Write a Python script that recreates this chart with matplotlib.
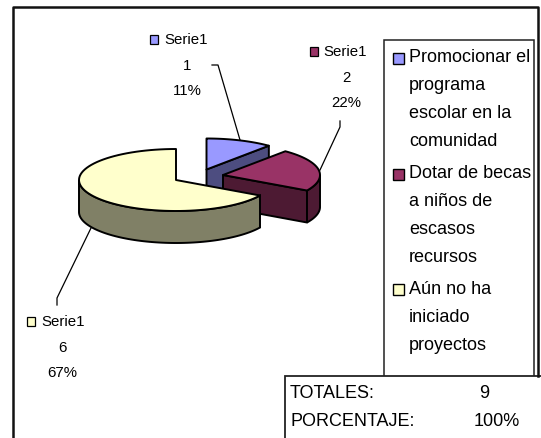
import numpy as np
import matplotlib
matplotlib.use('Agg')
import matplotlib.pyplot as plt
from matplotlib.patches import Polygon, Rectangle

plt.rcParams['font.family'] = ['Liberation Sans', 'DejaVu Sans']

# datos del grafico
categories = ['Promocionar el\nprograma\nescolar en la\ncomunidad',
              'Dotar de becas\na niños de\nescasos\nrecursos',
              'Aún no ha\niniciado\nproyectos']
series_name = 'Serie1'
values = [1, 2, 6]
percents = ['11%', '22%', '67%']
table_rows = ['TOTALES:', 'PORCENTAJE:']
table_values = ['9', '100%']

top_colors = ['#9999FF', '#993366', '#FFFFCC']
side_colors = ['#4D4D80', '#4D1A33', '#808066']

# centro de cada porcion, en pixeles
centers = [(206.5, 169.5), (223, 175), (176, 180)]
rx, ry, depth = 97, 31, 32


def arc(c, a0, a1, dy=0):
    t = np.radians(np.linspace(a0, a1, 80))
    return np.column_stack([c[0] + rx * np.cos(t), c[1] - ry * np.sin(t) + dy])


def draw_slice(ax, c, a0, a1, top, side):
    # a0 > a1, sentido horario
    t1 = np.radians(a1)
    if np.cos(t1) > 0.01:
        p = (c[0] + rx * np.cos(t1), c[1] - ry * np.sin(t1))
        ax.add_patch(Polygon([c, p, (p[0], p[1] + depth), (c[0], c[1] + depth)],
                             fc=side, ec='black', lw=1.4, joinstyle='round'))
    # pared exterior: solo la parte de abajo de la elipse
    for k in range(-1, 1):
        lo, hi = 360 * k - 180, 360 * k
        s, e = min(a0, hi), max(a1, lo)
        if s > e:
            top_arc = arc(c, s, e)
            ax.add_patch(Polygon(np.vstack([top_arc, arc(c, e, s, depth)]),
                                 fc=side, ec='black', lw=1.4))
    ax.add_patch(Polygon(np.vstack([[c], arc(c, a0, a1)]),
                         fc=top, ec='black', lw=1.4, joinstyle='round'))


fig = plt.figure(figsize=(5.41, 4.38), dpi=100)
ax = fig.add_axes([0, 0, 1, 1])
ax.set_xlim(0, 541)
ax.set_ylim(438, 0)
ax.axis('off')

# marco exterior
ax.plot([13, 13, 538, 538], [438, 7, 7, 376], color='#111111', lw=1.8)

# porciones
angle = 90
spans = []
for v in values:
    sweep = 360 * v / sum(values)
    spans.append((angle, angle - sweep))
    angle -= sweep
for i in range(len(values)):
    draw_slice(ax, centers[i], spans[i][0], spans[i][1], top_colors[i], side_colors[i])

# lineas guia
ax.plot([212, 218, 240], [65, 65, 140], color='black', lw=0.9)
ax.plot([340, 340, 320], [121, 127, 170], color='black', lw=0.9)
ax.plot([91, 57, 57], [228, 298, 305], color='black', lw=0.9)

# etiquetas de datos
label_marker = [(150, 35), (310, 47), (27, 317)]
label_name_x = [164, 323, 41]
label_name_y = [39, 51, 321]
label_center_x = [187, 346, 62]
for i in range(len(values)):
    mx, my = label_marker[i]
    ax.add_patch(Rectangle((mx, my), 8, 9, fc=top_colors[i], ec='black', lw=0.9))
    ax.text(label_name_x[i], label_name_y[i] + 1, series_name, fontsize=10.8, ha='left', va='center')
    ax.text(label_center_x[i], label_name_y[i] + 27, str(values[i]), fontsize=10.8, ha='center', va='center')
    ax.text(label_center_x[i], label_name_y[i] + 52, percents[i], fontsize=10.8, ha='center', va='center')

# leyenda
ax.add_patch(Rectangle((384, 40), 150, 340, fc='white', ec='#222222', lw=1.1))
legend_marker_y = [53, 169, 284]
legend_text_y = [57, 173, 289]
for i, cat in enumerate(categories):
    ax.add_patch(Rectangle((393, legend_marker_y[i]), 11, 10.5, fc=top_colors[i], ec='black', lw=1.0))
    for j, line in enumerate(cat.split('\n')):
        ax.text(409, legend_text_y[i] + j * 28, line, fontsize=13, ha='left', va='center')

# tabla de totales
ax.add_patch(Rectangle((285, 376), 262, 70, fc='white', ec='#222222', lw=1.3, clip_on=True))
table_y = [393, 421]
table_x = [484, 497]
for i in range(2):
    ax.text(290, table_y[i], table_rows[i], fontsize=13, ha='left', va='center')
    ax.text(table_x[i], table_y[i], table_values[i], fontsize=13, ha='center', va='center')

fig.savefig('out.png', dpi=100)
